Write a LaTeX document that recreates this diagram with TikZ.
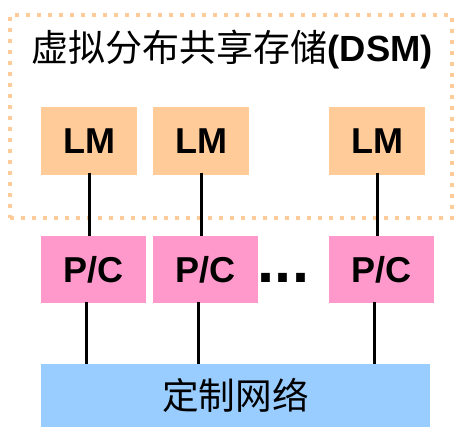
\documentclass[tikz,border=0pt]{standalone}
\usepackage{fontspec}
\setmainfont{Liberation Sans}
\newfontfamily\cjk{Noto Sans CJK SC}
\definecolor{lmc}{HTML}{FFCC99}
\definecolor{pcc}{HTML}{FF99CC}
\definecolor{netc}{HTML}{99CCFF}
\begin{document}
\begin{tikzpicture}[x=0.75pt,y=-0.75pt,
  lmbox/.style={fill=lmc,draw=none,minimum width=72pt,minimum height=51pt,inner sep=0pt,font=\fontsize{27}{32}\selectfont\bfseries},
  pcbox/.style={fill=pcc,draw=none,minimum width=78.75pt,minimum height=50.25pt,inner sep=0pt,font=\fontsize{27}{32}\selectfont\bfseries},
  netbox/.style={fill=netc,draw=none,minimum width=291.75pt,minimum height=47.25pt,inner sep=0pt,font=\fontsize{27.5}{32}\selectfont\cjk},
  dsmbox/.style={draw=lmc,line width=3pt,dash pattern=on 3pt off 5.25pt,minimum width=331.5pt,minimum height=152.25pt,inner sep=0pt},
  link/.style={line width=2.25pt,black}]
\useasboundingbox (0,0) rectangle (456,427);
\node[dsmbox] (dsm) at (231,116.5) {};
\node[anchor=west,inner sep=0pt] (title) at (31,50) {{\fontsize{27.8}{32}\selectfont\cjk 虚拟分布共享存储}{\fontsize{27.3}{32}\selectfont\bfseries(DSM)}};
\node[lmbox] (lm1) at (89,141) {LM};
\node[lmbox] (lm2) at (201,141) {LM};
\node[lmbox] (lm3) at (377,141) {LM};
\node[pcbox] (pc1) at (93.5,269.5) {P/C};
\node[pcbox] (pc2) at (205.5,269.5) {P/C};
\node[pcbox] (pc3) at (381.5,269.5) {P/C};
\node[anchor=base,inner sep=0pt,font=\fontsize{46}{50}\selectfont\bfseries] (dots) at (283.5,282) {...};
\node[netbox] (net) at (235.5,395.5) {定制网络};
\foreach \i in {1,2,3}{
  \draw[link] ([yshift=2pt]lm\i.south) -- (lm\i.south |- pc\i.north);
  \draw[link] ([xshift=-5.6pt,yshift=1pt]pc\i.south) -- ([xshift=-5.6pt]pc\i.south |- net.north);
}
\end{tikzpicture}
\end{document}
